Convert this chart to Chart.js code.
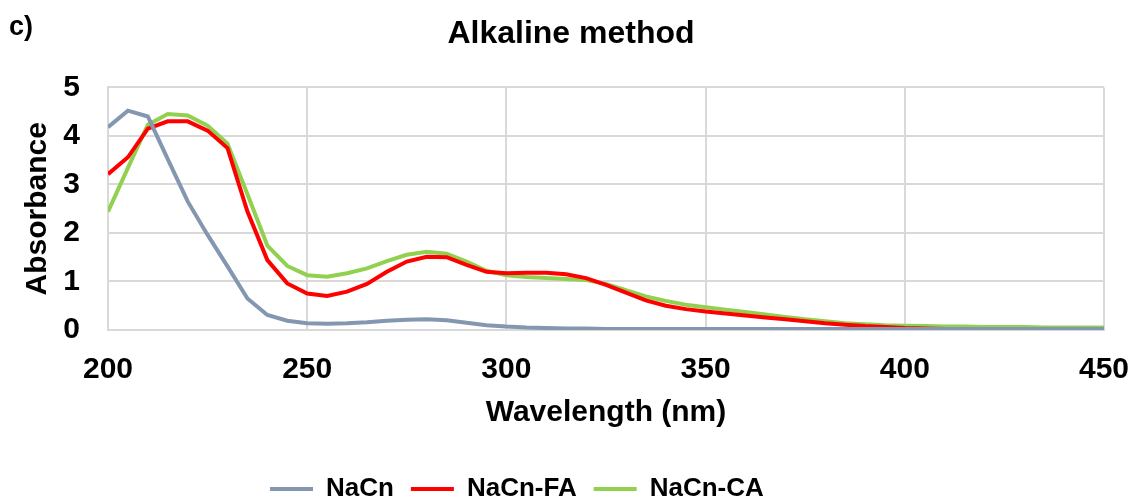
<!DOCTYPE html>
<html>
<head>
<meta charset="utf-8">
<title>Alkaline method</title>
<script src="https://cdn.jsdelivr.net/npm/chart.js@4.4.1/dist/chart.umd.min.js"></script>
<style>
  html, body { margin: 0; padding: 0; background: #fff; }
  #wrap { position: relative; width: 1133px; height: 501px; }
</style>
</head>
<body>
<div id="wrap"><canvas id="uv-chart" width="1133" height="501"></canvas></div>
<script>
// Absorbance spectra (5 nm steps)
const wavelengths = [200, 205, 210, 215, 220, 225, 230, 235, 240, 245,
  250, 255, 260, 265, 270, 275, 280, 285, 290, 295,
  300, 305, 310, 315, 320, 325, 330, 335, 340, 345,
  350, 355, 360, 365, 370, 375, 380, 385, 390, 395,
  400, 405, 410, 415, 420, 425, 430, 435, 440, 445, 450];

const naCn = [4.18, 4.52, 4.40, 3.52, 2.65, 1.96, 1.31, 0.65, 0.31, 0.19,
  0.14, 0.13, 0.14, 0.16, 0.19, 0.21, 0.22, 0.20, 0.15, 0.10,
  0.07, 0.05, 0.04, 0.03, 0.03, 0.02, 0.02, 0.02, 0.02, 0.02,
  0.02, 0.02, 0.02, 0.02, 0.02, 0.02, 0.02, 0.02, 0.02, 0.02,
  0.02, 0.02, 0.02, 0.02, 0.02, 0.02, 0.02, 0.02, 0.02, 0.02, 0.02];

const naCnFA = [3.21, 3.56, 4.15, 4.30, 4.30, 4.11, 3.75, 2.44, 1.44, 0.96,
  0.75, 0.70, 0.79, 0.95, 1.20, 1.41, 1.51, 1.50, 1.34, 1.20,
  1.17, 1.18, 1.18, 1.15, 1.07, 0.93, 0.77, 0.61, 0.50, 0.43,
  0.38, 0.34, 0.30, 0.26, 0.22, 0.18, 0.14, 0.11, 0.08, 0.06,
  0.04, 0.03, 0.02, 0.02, 0.01, 0.01, 0.01, 0.01, 0.01, 0.01, 0.01];

const naCnCA = [2.44, 3.34, 4.23, 4.45, 4.42, 4.21, 3.84, 2.80, 1.74, 1.32,
  1.13, 1.10, 1.17, 1.27, 1.42, 1.55, 1.61, 1.57, 1.41, 1.22,
  1.13, 1.09, 1.07, 1.05, 1.03, 0.95, 0.82, 0.69, 0.60, 0.52,
  0.47, 0.42, 0.37, 0.32, 0.27, 0.22, 0.18, 0.14, 0.12, 0.10,
  0.09, 0.08, 0.07, 0.07, 0.06, 0.06, 0.06, 0.05, 0.05, 0.05, 0.05];

const seriesNames = ['NaCn', 'NaCn-FA', 'NaCn-CA'];
const seriesColors = ['#8497B0', '#FF0000', '#92D050'];

const xTicks = [200, 250, 300, 350, 400, 450];
const yTicks = [0, 1, 2, 3, 4, 5];

const FONT = "'Liberation Sans', Arial, sans-serif";

function toPoints(values) {
  return wavelengths.map((w, i) => ({ x: w, y: values[i] }));
}

// panel letter in the top left corner
const panelLabel = {
  id: 'panelLabel',
  afterDraw(chart) {
    const ctx = chart.ctx;
    ctx.save();
    ctx.font = 'bold 27px ' + FONT;
    ctx.fillStyle = '#000';
    ctx.textBaseline = 'alphabetic';
    ctx.fillText('c)', 9, 35);
    ctx.restore();
  }
};

// Excel puts the legend a bit left of centre and close to the bottom edge,
// and the title a touch right of centre
const boxPlace = {
  id: 'boxPlace',
  afterLayout(chart) {
    const lg = chart.legend;
    if (lg) {
      const pad = lg.options.labels.padding;
      const dx = (270 - pad) - lg.left;
      lg.left += dx;
      lg.right += dx;
      const dy = (489 - 13 - pad) - lg.top;
      lg.top += dy;
      lg.bottom += dy;
    }
    const tb = chart.titleBlock;
    if (tb) {
      const dx = 571 - (tb.left + tb.right) / 2;
      tb.left += dx;
      tb.right += dx;
    }
  }
};

const ctx = document.getElementById('uv-chart').getContext('2d');

new Chart(ctx, {
  type: 'line',
  data: {
    datasets: [naCn, naCnFA, naCnCA].map((vals, i) => ({
      label: seriesNames[i],
      data: toPoints(vals),
      borderColor: seriesColors[i],
      backgroundColor: seriesColors[i],
      borderWidth: 4,
      pointRadius: 0,
      pointStyle: 'line',
      tension: 0,
      fill: false
    }))
  },
  options: {
    responsive: false,
    animation: false,
    devicePixelRatio: 1,
    layout: {
      padding: { left: 0, right: 0, top: 0, bottom: 14 }
    },
    plugins: {
      title: {
        display: true,
        text: 'Alkaline method',
        color: '#000',
        font: { family: FONT, size: 32, weight: 'bold' },
        padding: { top: 15, bottom: 34 }
      },
      legend: {
        position: 'bottom',
        align: 'start',
        labels: {
          usePointStyle: true,
          pointStyleWidth: 43,
          padding: 17,
          color: '#000',
          font: { family: FONT, size: 26, weight: 'bold' }
        }
      },
      tooltip: { enabled: false }
    },
    scales: {
      x: {
        type: 'linear',
        min: 200,
        max: 450,
        afterFit(scale) {
          scale.height = 104;
          scale.paddingRight = 29;
        },
        afterBuildTicks(scale) { scale.ticks = xTicks.map(v => ({ value: v })); },
        grid: { color: '#d9d9d9', lineWidth: 2, drawTicks: false },
        border: { color: '#d9d9d9', width: 2 },
        ticks: {
          color: '#000',
          padding: 22,
          maxRotation: 0,
          font: { family: FONT, size: 30, weight: 'bold' }
        },
        title: {
          display: true,
          text: 'Wavelength (nm)',
          color: '#000',
          font: { family: FONT, size: 30, weight: 'bold' },
          padding: { top: 0, bottom: 3 }
        }
      },
      y: {
        min: 0,
        max: 5,
        afterFit(scale) { scale.width = 108; },
        afterBuildTicks(scale) { scale.ticks = yTicks.map(v => ({ value: v })); },
        grid: { color: '#d9d9d9', lineWidth: 2, drawTicks: false },
        border: { color: '#d9d9d9', width: 2 },
        ticks: {
          color: '#000',
          padding: 28,
          font: { family: FONT, size: 30, weight: 'bold' }
        },
        title: {
          display: true,
          text: 'Absorbance',
          color: '#000',
          font: { family: FONT, size: 30, weight: 'bold' },
          padding: { top: 20, bottom: 0 }
        }
      }
    }
  },
  plugins: [panelLabel, boxPlace]
});
</script>
</body>
</html>
